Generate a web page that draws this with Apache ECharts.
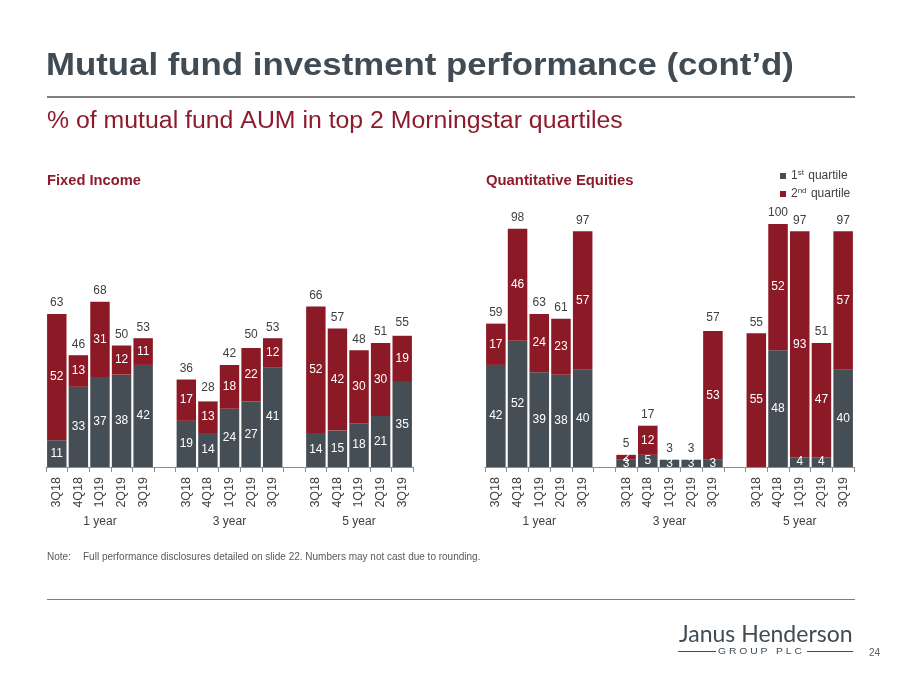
<!DOCTYPE html>
<html><head><meta charset="utf-8">
<script src="https://cdn.jsdelivr.net/npm/echarts@6/dist/echarts.min.js"></script>
<style>html,body{margin:0;padding:0;background:#fff}#c{width:900px;height:675px}</style>
</head><body><div id="c"></div>
<script>
var quarters = ['3Q18','4Q18','1Q19','2Q19','3Q19'];
var horizons = ['1 year','3 year','5 year'];
var fiFirst  = [11,33,37,38,42, 19,14,24,27,41, 14,15,18,21,35];
var fiSecond = [52,13,31,12,11, 17,13,18,22,12, 52,42,30,30,19];
var fiTotal  = [63,46,68,50,53, 36,28,42,50,53, 66,57,48,51,55];
var qeFirst  = [42,52,39,38,40, 3,5,3,3,3, 0,48,4,4,40];
var qeSecond = [17,46,24,23,57, 2,12,0,0,53, 55,52,93,47,57];
var qeTotal  = [59,98,63,61,97, 5,17,3,3,57, 55,100,97,51,97];

var DARK = '#454E55', RED = '#8C1A26', TXT = '#404040';

function slots(arr){ // insert an empty slot between horizon groups
  var out = [];
  for (var g = 0; g < horizons.length; g++) {
    if (g > 0) out.push(null);
    for (var q = 0; q < quarters.length; q++) out.push(arr[g*quarters.length+q]);
  }
  return out;
}
var catSlots = [], groupSlots = [];
for (var g = 0; g < horizons.length; g++) {
  if (g > 0) { catSlots.push(''); groupSlots.push(''); }
  for (var q = 0; q < quarters.length; q++) {
    catSlots.push(quarters[q]);
    groupSlots.push(q === 2 ? horizons[g] : '');
  }
}

function xAxes(gi){
  return [{
    type:'category', gridIndex:gi, data:catSlots,
    axisLine:{lineStyle:{color:'#8c8c8c',width:1}},
    axisTick:{show:true,interval:0,length:5,lineStyle:{color:'#8c8c8c'}},
    axisLabel:{interval:0,rotate:90,margin:10,fontSize:12.5,color:TXT,fontFamily:'Liberation Sans'}
  },{
    type:'category', gridIndex:gi, data:groupSlots, position:'bottom', offset:0,
    axisLine:{show:false}, axisTick:{show:false},
    axisLabel:{interval:0,margin:49,fontSize:12,color:TXT,fontFamily:'Liberation Sans'}
  }];
}
function series(gi, first, second, total){
  var lab = {show:true,position:'inside',color:'#fff',fontSize:12,fontFamily:'Liberation Sans',
    formatter:function(p){return p.value ? p.value : '';}};
  return [{
    name:'1st quartile', type:'bar', stack:'s'+gi, xAxisIndex:gi*2, yAxisIndex:gi,
    data:slots(first), barWidth:'90%', barGap:'-100%', itemStyle:{color:DARK}, label:lab
  },{
    name:'2nd quartile', type:'bar', stack:'s'+gi, xAxisIndex:gi*2, yAxisIndex:gi,
    data:slots(second), barWidth:'90%', barGap:'-100%', itemStyle:{color:RED}, label:lab
  },{
    name:'total'+gi, type:'bar', xAxisIndex:gi*2, yAxisIndex:gi,
    data:slots(total), barWidth:'90%', barGap:'-100%', itemStyle:{color:'rgba(0,0,0,0)'},
    label:{show:true,position:'top',distance:5,color:TXT,fontSize:12,fontFamily:'Liberation Sans'},
    silent:true, z:1
  }];
}

var chart = echarts.init(document.getElementById('c'), null, {renderer:'canvas'});
var option = {
  animation:false,
  backgroundColor:'#fff',
  grid:[{left:46,width:367,top:224,bottom:208},{left:485,width:369,top:224,bottom:208}],
  xAxis: xAxes(0).concat(xAxes(1)),
  yAxis:[{type:'value',gridIndex:0,min:0,max:100,show:false},{type:'value',gridIndex:1,min:0,max:100,show:false}],
  legend:{
    data:['1st quartile','2nd quartile'], orient:'vertical', left:775, top:164,
    itemWidth:6, itemHeight:6, itemGap:5, icon:'rect',
    textStyle:{fontSize:12,color:TXT,fontFamily:'Liberation Sans',
      rich:{n:{fontSize:12,color:TXT},s:{fontSize:8,color:TXT,padding:[0,1,6,0]}}},
    formatter:function(n){ return n==='1st quartile' ? '{n|1}{s|st}{n| quartile}' : '{n|2}{s|nd}{n| quartile}'; }
  },
  series: series(0, fiFirst, fiSecond, fiTotal).concat(series(1, qeFirst, qeSecond, qeTotal)),
  graphic:[
    {type:'text',left:46,top:50,scaleX:1.087,style:{text:'Mutual fund investment performance (cont\u2019d)',fontSize:32,fontWeight:'bold',fill:'#414B53',fontFamily:'Liberation Sans'}},
    {type:'rect',shape:{x:47,y:96,width:808,height:2},style:{fill:'#7f7f7f'}},
    {type:'text',left:47,top:110,scaleX:1.08,style:{text:'% of mutual fund AUM in top 2 Morningstar quartiles',fontSize:23,fill:'#8E1B2C',fontFamily:'Liberation Sans'}},
    {type:'text',left:47,top:174,scaleX:1.05,style:{text:'Fixed Income',fontSize:14,fontWeight:'bold',fill:'#8E1B2C',fontFamily:'Liberation Sans'}},
    {type:'text',left:486,top:174,scaleX:1.06,style:{text:'Quantitative Equities',fontSize:14,fontWeight:'bold',fill:'#8E1B2C',fontFamily:'Liberation Sans'}},
    {type:'text',left:47,top:552,style:{text:'Note:',fontSize:10,fill:'#595959',fontFamily:'Liberation Sans'}},
    {type:'text',left:83,top:552,style:{text:'Full performance disclosures detailed on slide 22. Numbers may not cast due to rounding.',fontSize:10,fill:'#595959',fontFamily:'Liberation Sans'}},
    {type:'rect',shape:{x:47,y:599,width:808,height:1},style:{fill:'#7f7f7f'}},
    {type:'text',left:679,top:623,style:{text:'Janus Henderson',fontSize:23,fill:'#414B53',fontFamily:'Lato'}},
    {type:'rect',shape:{x:678,y:651,width:38,height:1},style:{fill:'#414B53'}},
    {type:'text',left:718,top:647,scaleX:1.15,style:{text:'G R O U P   P L C',fontSize:9,fill:'#414B53',fontFamily:'Liberation Sans'}},
    {type:'rect',shape:{x:807,y:651,width:46,height:1},style:{fill:'#414B53'}},
    {type:'text',left:869,top:648,style:{text:'24',fontSize:10,fill:'#595959',fontFamily:'Liberation Sans'}}
  ]
};
chart.setOption(option);
</script></body></html>
